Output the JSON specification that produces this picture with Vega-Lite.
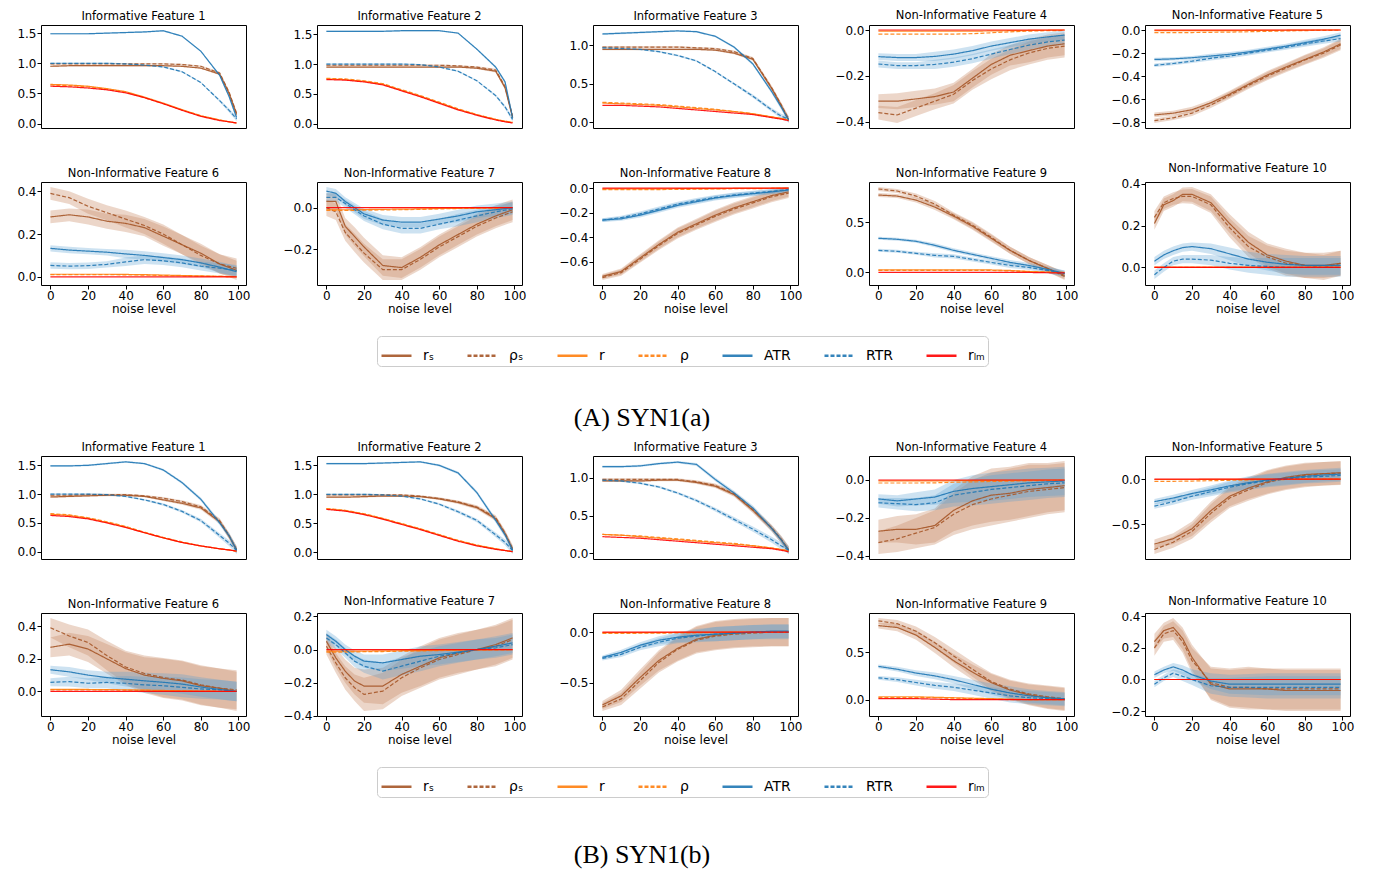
{
"$schema": "https://vega.github.io/schema/vega-lite/v6.json",
"background": "white",
"padding": {"left": 16, "top": 8, "right": 5, "bottom": 5},
"config": {
  "font": "DejaVu Sans",
  "view": {"stroke": "black", "strokeWidth": 1},
  "axis": {"grid": false, "domain": false, "tickColor": "black", "tickSize": 4, "labelColor": "black", "labelFontSize": 12, "titleFontSize": 12, "titleFontWeight": "normal", "titleColor": "black", "titlePadding": 2, "labelPadding": 1},
  "header": {"labelFontSize": 11.5, "labelColor": "black", "labelPadding": 3, "title": null}
},
"datasets": {
"A": [
{"f":1,"x":0,"rS":0.95,"pS":0.99,"r":0.65,"p":0.64,"atr":1.49,"rtr":1.0,"lm":0.62,"sb":0.012,"sa":0.012},
{"f":1,"x":10,"rS":0.96,"pS":0.99,"r":0.64,"p":0.63,"atr":1.49,"rtr":1.0,"lm":0.61,"sb":0.012,"sa":0.012},
{"f":1,"x":20,"rS":0.96,"pS":0.99,"r":0.62,"p":0.61,"atr":1.49,"rtr":1.0,"lm":0.59,"sb":0.012,"sa":0.012},
{"f":1,"x":30,"rS":0.96,"pS":0.99,"r":0.58,"p":0.57,"atr":1.5,"rtr":1.0,"lm":0.56,"sb":0.012,"sa":0.012},
{"f":1,"x":40,"rS":0.96,"pS":0.99,"r":0.53,"p":0.52,"atr":1.51,"rtr":0.99,"lm":0.51,"sb":0.012,"sa":0.012},
{"f":1,"x":50,"rS":0.96,"pS":0.99,"r":0.44,"p":0.43,"atr":1.52,"rtr":0.97,"lm":0.43,"sb":0.012,"sa":0.012},
{"f":1,"x":60,"rS":0.96,"pS":0.99,"r":0.34,"p":0.33,"atr":1.54,"rtr":0.94,"lm":0.33,"sb":0.012,"sa":0.012},
{"f":1,"x":70,"rS":0.95,"pS":0.98,"r":0.23,"p":0.23,"atr":1.45,"rtr":0.86,"lm":0.22,"sb":0.012,"sa":0.012},
{"f":1,"x":80,"rS":0.92,"pS":0.95,"r":0.13,"p":0.13,"atr":1.2,"rtr":0.68,"lm":0.12,"sb":0.012,"sa":0.012},
{"f":1,"x":90,"rS":0.82,"pS":0.84,"r":0.06,"p":0.06,"atr":0.8,"rtr":0.38,"lm":0.05,"sb":0.02,"sa":0.02},
{"f":1,"x":95,"rS":0.5,"pS":0.52,"r":0.03,"p":0.03,"atr":0.45,"rtr":0.22,"lm":0.03,"sb":0.03,"sa":0.03},
{"f":1,"x":99,"rS":0.15,"pS":0.17,"r":0.01,"p":0.01,"atr":0.1,"rtr":0.08,"lm":0.01,"sb":0.04,"sa":0.04},
{"f":2,"x":0,"rS":0.95,"pS":0.98,"r":0.75,"p":0.76,"atr":1.55,"rtr":1.0,"lm":0.74,"sb":0.012,"sa":0.012},
{"f":2,"x":10,"rS":0.95,"pS":0.98,"r":0.74,"p":0.75,"atr":1.55,"rtr":1.0,"lm":0.73,"sb":0.012,"sa":0.012},
{"f":2,"x":20,"rS":0.95,"pS":0.98,"r":0.71,"p":0.72,"atr":1.55,"rtr":1.0,"lm":0.7,"sb":0.012,"sa":0.012},
{"f":2,"x":30,"rS":0.95,"pS":0.98,"r":0.66,"p":0.67,"atr":1.55,"rtr":1.0,"lm":0.65,"sb":0.012,"sa":0.012},
{"f":2,"x":40,"rS":0.95,"pS":0.98,"r":0.56,"p":0.57,"atr":1.56,"rtr":1.0,"lm":0.55,"sb":0.012,"sa":0.012},
{"f":2,"x":50,"rS":0.95,"pS":0.98,"r":0.46,"p":0.47,"atr":1.56,"rtr":0.99,"lm":0.45,"sb":0.012,"sa":0.012},
{"f":2,"x":60,"rS":0.95,"pS":0.98,"r":0.35,"p":0.36,"atr":1.56,"rtr":0.95,"lm":0.34,"sb":0.012,"sa":0.012},
{"f":2,"x":70,"rS":0.95,"pS":0.97,"r":0.24,"p":0.25,"atr":1.52,"rtr":0.88,"lm":0.23,"sb":0.012,"sa":0.012},
{"f":2,"x":80,"rS":0.93,"pS":0.95,"r":0.15,"p":0.15,"atr":1.25,"rtr":0.72,"lm":0.14,"sb":0.012,"sa":0.012},
{"f":2,"x":90,"rS":0.88,"pS":0.9,"r":0.07,"p":0.07,"atr":0.95,"rtr":0.47,"lm":0.06,"sb":0.02,"sa":0.02},
{"f":2,"x":95,"rS":0.6,"pS":0.62,"r":0.04,"p":0.04,"atr":0.7,"rtr":0.28,"lm":0.03,"sb":0.03,"sa":0.03},
{"f":2,"x":99,"rS":0.1,"pS":0.12,"r":0.02,"p":0.02,"atr":0.1,"rtr":0.07,"lm":0.01,"sb":0.04,"sa":0.04},
{"f":3,"x":0,"rS":0.95,"pS":0.98,"r":0.25,"p":0.26,"atr":1.15,"rtr":0.97,"lm":0.22,"sb":0.012,"sa":0.012},
{"f":3,"x":10,"rS":0.95,"pS":0.98,"r":0.24,"p":0.25,"atr":1.16,"rtr":0.96,"lm":0.22,"sb":0.012,"sa":0.012},
{"f":3,"x":20,"rS":0.95,"pS":0.98,"r":0.23,"p":0.24,"atr":1.17,"rtr":0.95,"lm":0.21,"sb":0.012,"sa":0.012},
{"f":3,"x":30,"rS":0.95,"pS":0.98,"r":0.22,"p":0.23,"atr":1.18,"rtr":0.92,"lm":0.2,"sb":0.012,"sa":0.012},
{"f":3,"x":40,"rS":0.95,"pS":0.98,"r":0.2,"p":0.21,"atr":1.19,"rtr":0.87,"lm":0.18,"sb":0.012,"sa":0.012},
{"f":3,"x":50,"rS":0.95,"pS":0.97,"r":0.18,"p":0.19,"atr":1.18,"rtr":0.8,"lm":0.16,"sb":0.012,"sa":0.012},
{"f":3,"x":60,"rS":0.94,"pS":0.96,"r":0.16,"p":0.17,"atr":1.12,"rtr":0.66,"lm":0.14,"sb":0.012,"sa":0.012},
{"f":3,"x":70,"rS":0.9,"pS":0.92,"r":0.14,"p":0.14,"atr":0.98,"rtr":0.5,"lm":0.12,"sb":0.015,"sa":0.015},
{"f":3,"x":80,"rS":0.82,"pS":0.83,"r":0.11,"p":0.11,"atr":0.76,"rtr":0.34,"lm":0.1,"sb":0.02,"sa":0.02},
{"f":3,"x":90,"rS":0.44,"pS":0.45,"r":0.07,"p":0.07,"atr":0.4,"rtr":0.16,"lm":0.06,"sb":0.025,"sa":0.025},
{"f":3,"x":95,"rS":0.22,"pS":0.23,"r":0.05,"p":0.05,"atr":0.2,"rtr":0.08,"lm":0.04,"sb":0.03,"sa":0.03},
{"f":3,"x":99,"rS":0.03,"pS":0.04,"r":0.03,"p":0.03,"atr":0.03,"rtr":0.04,"lm":0.02,"sb":0.04,"sa":0.04},
{"f":4,"x":0,"rS":-0.31,"pS":-0.36,"r":-0.005,"p":-0.018,"atr":-0.116,"rtr":-0.148,"lm":0.0,"sb":0.03,"sa":0.015},
{"f":4,"x":10,"rS":-0.31,"pS":-0.37,"r":-0.005,"p":-0.018,"atr":-0.12,"rtr":-0.155,"lm":0.0,"sb":0.035,"sa":0.015},
{"f":4,"x":20,"rS":-0.3,"pS":-0.34,"r":-0.005,"p":-0.018,"atr":-0.12,"rtr":-0.155,"lm":0.0,"sb":0.035,"sa":0.015},
{"f":4,"x":30,"rS":-0.29,"pS":-0.31,"r":-0.005,"p":-0.018,"atr":-0.115,"rtr":-0.15,"lm":0.0,"sb":0.035,"sa":0.02},
{"f":4,"x":40,"rS":-0.27,"pS":-0.28,"r":-0.005,"p":-0.018,"atr":-0.105,"rtr":-0.14,"lm":0.0,"sb":0.04,"sa":0.02},
{"f":4,"x":50,"rS":-0.21,"pS":-0.22,"r":-0.005,"p":-0.016,"atr":-0.09,"rtr":-0.125,"lm":0.0,"sb":0.04,"sa":0.02},
{"f":4,"x":60,"rS":-0.15,"pS":-0.17,"r":-0.004,"p":-0.012,"atr":-0.07,"rtr":-0.105,"lm":0.0,"sb":0.045,"sa":0.02},
{"f":4,"x":70,"rS":-0.11,"pS":-0.13,"r":-0.003,"p":-0.008,"atr":-0.055,"rtr":-0.085,"lm":0.0,"sb":0.045,"sa":0.02},
{"f":4,"x":80,"rS":-0.09,"pS":-0.1,"r":-0.002,"p":-0.005,"atr":-0.04,"rtr":-0.066,"lm":0.0,"sb":0.05,"sa":0.02},
{"f":4,"x":90,"rS":-0.07,"pS":-0.08,"r":-0.001,"p":-0.003,"atr":-0.03,"rtr":-0.052,"lm":0.0,"sb":0.05,"sa":0.02},
{"f":4,"x":99,"rS":-0.06,"pS":-0.07,"r":0.0,"p":-0.002,"atr":-0.022,"rtr":-0.044,"lm":0.0,"sb":0.05,"sa":0.02},
{"f":5,"x":0,"rS":-0.735,"pS":-0.785,"r":-0.005,"p":-0.022,"atr":-0.255,"rtr":-0.306,"lm":0.0,"sb":0.02,"sa":0.015},
{"f":5,"x":10,"rS":-0.72,"pS":-0.76,"r":-0.005,"p":-0.022,"atr":-0.25,"rtr":-0.29,"lm":0.0,"sb":0.02,"sa":0.015},
{"f":5,"x":20,"rS":-0.69,"pS":-0.72,"r":-0.005,"p":-0.022,"atr":-0.24,"rtr":-0.27,"lm":0.0,"sb":0.025,"sa":0.015},
{"f":5,"x":30,"rS":-0.63,"pS":-0.65,"r":-0.005,"p":-0.02,"atr":-0.225,"rtr":-0.245,"lm":0.0,"sb":0.025,"sa":0.02},
{"f":5,"x":40,"rS":-0.555,"pS":-0.565,"r":-0.005,"p":-0.018,"atr":-0.21,"rtr":-0.225,"lm":0.0,"sb":0.03,"sa":0.02},
{"f":5,"x":50,"rS":-0.47,"pS":-0.48,"r":-0.004,"p":-0.015,"atr":-0.19,"rtr":-0.2,"lm":0.0,"sb":0.03,"sa":0.02},
{"f":5,"x":60,"rS":-0.39,"pS":-0.4,"r":-0.003,"p":-0.012,"atr":-0.165,"rtr":-0.175,"lm":0.0,"sb":0.035,"sa":0.02},
{"f":5,"x":70,"rS":-0.32,"pS":-0.33,"r":-0.002,"p":-0.008,"atr":-0.14,"rtr":-0.15,"lm":0.0,"sb":0.035,"sa":0.02},
{"f":5,"x":80,"rS":-0.255,"pS":-0.26,"r":-0.001,"p":-0.005,"atr":-0.11,"rtr":-0.12,"lm":0.0,"sb":0.04,"sa":0.025},
{"f":5,"x":90,"rS":-0.19,"pS":-0.2,"r":0.0,"p":-0.003,"atr":-0.08,"rtr":-0.095,"lm":0.0,"sb":0.04,"sa":0.025},
{"f":5,"x":99,"rS":-0.12,"pS":-0.13,"r":0.0,"p":-0.002,"atr":-0.045,"rtr":-0.075,"lm":0.0,"sb":0.045,"sa":0.025},
{"f":6,"x":0,"rS":0.28,"pS":0.39,"r":0.012,"p":0.01,"atr":0.133,"rtr":0.053,"lm":0.0,"sb":0.03,"sa":0.015},
{"f":6,"x":10,"rS":0.29,"pS":0.37,"r":0.012,"p":0.01,"atr":0.125,"rtr":0.05,"lm":0.0,"sb":0.03,"sa":0.015},
{"f":6,"x":20,"rS":0.28,"pS":0.33,"r":0.012,"p":0.01,"atr":0.12,"rtr":0.052,"lm":0.0,"sb":0.035,"sa":0.015},
{"f":6,"x":30,"rS":0.26,"pS":0.3,"r":0.012,"p":0.01,"atr":0.115,"rtr":0.058,"lm":0.0,"sb":0.035,"sa":0.015},
{"f":6,"x":40,"rS":0.25,"pS":0.27,"r":0.011,"p":0.009,"atr":0.107,"rtr":0.07,"lm":0.0,"sb":0.04,"sa":0.02},
{"f":6,"x":50,"rS":0.23,"pS":0.24,"r":0.01,"p":0.008,"atr":0.1,"rtr":0.08,"lm":0.0,"sb":0.04,"sa":0.02},
{"f":6,"x":60,"rS":0.19,"pS":0.2,"r":0.008,"p":0.006,"atr":0.09,"rtr":0.075,"lm":0.0,"sb":0.045,"sa":0.02},
{"f":6,"x":70,"rS":0.15,"pS":0.15,"r":0.006,"p":0.005,"atr":0.08,"rtr":0.065,"lm":0.0,"sb":0.045,"sa":0.02},
{"f":6,"x":80,"rS":0.11,"pS":0.1,"r":0.004,"p":0.003,"atr":0.065,"rtr":0.05,"lm":0.0,"sb":0.045,"sa":0.02},
{"f":6,"x":90,"rS":0.06,"pS":0.06,"r":0.002,"p":0.002,"atr":0.045,"rtr":0.04,"lm":0.0,"sb":0.045,"sa":0.025},
{"f":6,"x":99,"rS":0.03,"pS":0.04,"r":0.0,"p":0.0,"atr":0.024,"rtr":0.03,"lm":0.0,"sb":0.045,"sa":0.025},
{"f":7,"x":0,"rS":0.03,"pS":0.0,"r":-0.01,"p":-0.013,"atr":0.08,"rtr":0.05,"lm":0.0,"sb":0.04,"sa":0.02},
{"f":7,"x":5,"rS":0.03,"pS":-0.02,"r":-0.01,"p":-0.013,"atr":0.07,"rtr":0.05,"lm":0.0,"sb":0.04,"sa":0.02},
{"f":7,"x":10,"rS":-0.09,"pS":-0.12,"r":-0.01,"p":-0.013,"atr":0.03,"rtr":0.02,"lm":0.0,"sb":0.04,"sa":0.02},
{"f":7,"x":15,"rS":-0.14,"pS":-0.17,"r":-0.01,"p":-0.013,"atr":0.0,"rtr":-0.01,"lm":0.0,"sb":0.045,"sa":0.022},
{"f":7,"x":20,"rS":-0.19,"pS":-0.22,"r":-0.009,"p":-0.012,"atr":-0.03,"rtr":-0.04,"lm":0.0,"sb":0.045,"sa":0.025},
{"f":7,"x":30,"rS":-0.28,"pS":-0.3,"r":-0.008,"p":-0.011,"atr":-0.06,"rtr":-0.08,"lm":0.0,"sb":0.05,"sa":0.025},
{"f":7,"x":40,"rS":-0.29,"pS":-0.3,"r":-0.007,"p":-0.01,"atr":-0.07,"rtr":-0.1,"lm":0.0,"sb":0.05,"sa":0.025},
{"f":7,"x":50,"rS":-0.24,"pS":-0.25,"r":-0.006,"p":-0.008,"atr":-0.07,"rtr":-0.1,"lm":0.0,"sb":0.05,"sa":0.025},
{"f":7,"x":60,"rS":-0.18,"pS":-0.19,"r":-0.004,"p":-0.006,"atr":-0.055,"rtr":-0.08,"lm":0.0,"sb":0.05,"sa":0.025},
{"f":7,"x":70,"rS":-0.13,"pS":-0.14,"r":-0.003,"p":-0.004,"atr":-0.04,"rtr":-0.06,"lm":0.0,"sb":0.05,"sa":0.03},
{"f":7,"x":80,"rS":-0.08,"pS":-0.09,"r":-0.002,"p":-0.003,"atr":-0.02,"rtr":-0.04,"lm":0.0,"sb":0.05,"sa":0.03},
{"f":7,"x":90,"rS":-0.04,"pS":-0.05,"r":-0.001,"p":-0.002,"atr":-0.01,"rtr":-0.02,"lm":0.0,"sb":0.05,"sa":0.03},
{"f":7,"x":99,"rS":-0.01,"pS":-0.02,"r":0.0,"p":-0.001,"atr":0.0,"rtr":-0.005,"lm":0.0,"sb":0.05,"sa":0.03},
{"f":8,"x":0,"rS":-0.72,"pS":-0.73,"r":-0.005,"p":-0.012,"atr":-0.26,"rtr":-0.26,"lm":0.0,"sb":0.02,"sa":0.015},
{"f":8,"x":10,"rS":-0.68,"pS":-0.69,"r":-0.005,"p":-0.012,"atr":-0.25,"rtr":-0.24,"lm":0.0,"sb":0.025,"sa":0.015},
{"f":8,"x":20,"rS":-0.57,"pS":-0.58,"r":-0.005,"p":-0.012,"atr":-0.22,"rtr":-0.21,"lm":0.0,"sb":0.03,"sa":0.02},
{"f":8,"x":30,"rS":-0.46,"pS":-0.47,"r":-0.005,"p":-0.011,"atr":-0.18,"rtr":-0.17,"lm":0.0,"sb":0.035,"sa":0.02},
{"f":8,"x":40,"rS":-0.36,"pS":-0.37,"r":-0.004,"p":-0.01,"atr":-0.14,"rtr":-0.13,"lm":0.0,"sb":0.04,"sa":0.02},
{"f":8,"x":50,"rS":-0.29,"pS":-0.3,"r":-0.004,"p":-0.008,"atr":-0.11,"rtr":-0.1,"lm":0.0,"sb":0.04,"sa":0.02},
{"f":8,"x":60,"rS":-0.22,"pS":-0.23,"r":-0.003,"p":-0.006,"atr":-0.08,"rtr":-0.075,"lm":0.0,"sb":0.045,"sa":0.02},
{"f":8,"x":70,"rS":-0.16,"pS":-0.17,"r":-0.002,"p":-0.004,"atr":-0.06,"rtr":-0.055,"lm":0.0,"sb":0.045,"sa":0.02},
{"f":8,"x":80,"rS":-0.11,"pS":-0.12,"r":-0.001,"p":-0.003,"atr":-0.045,"rtr":-0.04,"lm":0.0,"sb":0.045,"sa":0.02},
{"f":8,"x":90,"rS":-0.06,"pS":-0.07,"r":0.0,"p":-0.002,"atr":-0.03,"rtr":-0.025,"lm":0.0,"sb":0.045,"sa":0.02},
{"f":8,"x":99,"rS":-0.03,"pS":-0.04,"r":0.0,"p":-0.001,"atr":-0.015,"rtr":-0.01,"lm":0.0,"sb":0.04,"sa":0.02},
{"f":9,"x":0,"rS":0.77,"pS":0.83,"r":0.025,"p":0.02,"atr":0.34,"rtr":0.22,"lm":0.0,"sb":0.02,"sa":0.015},
{"f":9,"x":10,"rS":0.76,"pS":0.81,"r":0.025,"p":0.02,"atr":0.33,"rtr":0.21,"lm":0.0,"sb":0.02,"sa":0.015},
{"f":9,"x":20,"rS":0.72,"pS":0.76,"r":0.025,"p":0.02,"atr":0.31,"rtr":0.19,"lm":0.0,"sb":0.025,"sa":0.015},
{"f":9,"x":30,"rS":0.65,"pS":0.68,"r":0.025,"p":0.02,"atr":0.27,"rtr":0.17,"lm":0.0,"sb":0.03,"sa":0.02},
{"f":9,"x":40,"rS":0.56,"pS":0.57,"r":0.025,"p":0.02,"atr":0.22,"rtr":0.16,"lm":0.0,"sb":0.03,"sa":0.02},
{"f":9,"x":50,"rS":0.46,"pS":0.47,"r":0.025,"p":0.02,"atr":0.18,"rtr":0.13,"lm":0.0,"sb":0.035,"sa":0.02},
{"f":9,"x":60,"rS":0.34,"pS":0.35,"r":0.025,"p":0.02,"atr":0.14,"rtr":0.1,"lm":0.0,"sb":0.035,"sa":0.02},
{"f":9,"x":70,"rS":0.22,"pS":0.22,"r":0.02,"p":0.015,"atr":0.1,"rtr":0.07,"lm":0.0,"sb":0.035,"sa":0.025},
{"f":9,"x":80,"rS":0.12,"pS":0.12,"r":0.01,"p":0.008,"atr":0.07,"rtr":0.05,"lm":0.0,"sb":0.035,"sa":0.025},
{"f":9,"x":90,"rS":0.04,"pS":0.04,"r":0.004,"p":0.003,"atr":0.03,"rtr":0.02,"lm":-0.003,"sb":0.035,"sa":0.03},
{"f":9,"x":99,"rS":-0.03,"pS":-0.04,"r":0.0,"p":0.0,"atr":-0.01,"rtr":-0.01,"lm":-0.005,"sb":0.035,"sa":0.03},
{"f":10,"x":0,"rS":0.21,"pS":0.24,"r":0.002,"p":0.0,"atr":0.03,"rtr":-0.035,"lm":0.0,"sb":0.03,"sa":0.02},
{"f":10,"x":5,"rS":0.3,"pS":0.31,"r":0.002,"p":0.0,"atr":0.06,"rtr":0.0,"lm":0.0,"sb":0.03,"sa":0.02},
{"f":10,"x":10,"rS":0.32,"pS":0.33,"r":0.002,"p":0.0,"atr":0.08,"rtr":0.03,"lm":0.0,"sb":0.03,"sa":0.02},
{"f":10,"x":15,"rS":0.35,"pS":0.34,"r":0.002,"p":0.0,"atr":0.095,"rtr":0.04,"lm":0.0,"sb":0.033,"sa":0.02},
{"f":10,"x":20,"rS":0.35,"pS":0.34,"r":0.002,"p":0.0,"atr":0.1,"rtr":0.04,"lm":0.0,"sb":0.035,"sa":0.02},
{"f":10,"x":30,"rS":0.31,"pS":0.3,"r":0.002,"p":0.0,"atr":0.09,"rtr":0.035,"lm":0.0,"sb":0.04,"sa":0.025},
{"f":10,"x":40,"rS":0.21,"pS":0.19,"r":0.002,"p":0.0,"atr":0.065,"rtr":0.02,"lm":0.0,"sb":0.045,"sa":0.03},
{"f":10,"x":50,"rS":0.12,"pS":0.1,"r":0.002,"p":0.0,"atr":0.04,"rtr":0.01,"lm":0.0,"sb":0.05,"sa":0.035},
{"f":10,"x":60,"rS":0.06,"pS":0.05,"r":0.002,"p":0.0,"atr":0.025,"rtr":0.005,"lm":0.0,"sb":0.055,"sa":0.04},
{"f":10,"x":70,"rS":0.03,"pS":0.02,"r":0.002,"p":0.0,"atr":0.015,"rtr":0.0,"lm":0.0,"sb":0.06,"sa":0.045},
{"f":10,"x":80,"rS":0.01,"pS":0.01,"r":0.002,"p":0.0,"atr":0.01,"rtr":0.0,"lm":0.0,"sb":0.06,"sa":0.045},
{"f":10,"x":90,"rS":0.01,"pS":0.0,"r":0.002,"p":0.0,"atr":0.01,"rtr":0.0,"lm":0.0,"sb":0.06,"sa":0.045},
{"f":10,"x":99,"rS":0.02,"pS":0.02,"r":0.002,"p":0.0,"atr":0.01,"rtr":0.0,"lm":0.0,"sb":0.06,"sa":0.045}
],
"B": [
{"f":1,"x":0,"rS":0.95,"pS":0.98,"r":0.65,"p":0.66,"atr":1.49,"rtr":1.0,"lm":0.63,"sb":0.015,"sa":0.015},
{"f":1,"x":10,"rS":0.96,"pS":0.98,"r":0.63,"p":0.64,"atr":1.49,"rtr":1.0,"lm":0.61,"sb":0.015,"sa":0.015},
{"f":1,"x":20,"rS":0.97,"pS":0.99,"r":0.58,"p":0.59,"atr":1.5,"rtr":1.0,"lm":0.57,"sb":0.015,"sa":0.015},
{"f":1,"x":30,"rS":0.98,"pS":0.99,"r":0.51,"p":0.52,"atr":1.53,"rtr":0.99,"lm":0.5,"sb":0.015,"sa":0.015},
{"f":1,"x":40,"rS":0.98,"pS":0.99,"r":0.43,"p":0.44,"atr":1.56,"rtr":0.96,"lm":0.42,"sb":0.015,"sa":0.015},
{"f":1,"x":50,"rS":0.96,"pS":0.97,"r":0.33,"p":0.34,"atr":1.53,"rtr":0.9,"lm":0.33,"sb":0.015,"sa":0.015},
{"f":1,"x":60,"rS":0.9,"pS":0.93,"r":0.24,"p":0.25,"atr":1.42,"rtr":0.82,"lm":0.24,"sb":0.02,"sa":0.02},
{"f":1,"x":70,"rS":0.84,"pS":0.87,"r":0.16,"p":0.17,"atr":1.2,"rtr":0.7,"lm":0.16,"sb":0.025,"sa":0.025},
{"f":1,"x":80,"rS":0.76,"pS":0.78,"r":0.1,"p":0.1,"atr":0.91,"rtr":0.54,"lm":0.1,"sb":0.03,"sa":0.03},
{"f":1,"x":90,"rS":0.52,"pS":0.54,"r":0.05,"p":0.05,"atr":0.5,"rtr":0.28,"lm":0.05,"sb":0.04,"sa":0.04},
{"f":1,"x":95,"rS":0.27,"pS":0.28,"r":0.03,"p":0.03,"atr":0.28,"rtr":0.15,"lm":0.03,"sb":0.05,"sa":0.05},
{"f":1,"x":99,"rS":0.03,"pS":0.04,"r":0.01,"p":0.01,"atr":0.03,"rtr":0.02,"lm":0.01,"sb":0.06,"sa":0.06},
{"f":2,"x":0,"rS":0.95,"pS":0.99,"r":0.75,"p":0.755,"atr":1.53,"rtr":1.0,"lm":0.74,"sb":0.015,"sa":0.015},
{"f":2,"x":10,"rS":0.95,"pS":0.99,"r":0.72,"p":0.725,"atr":1.53,"rtr":1.0,"lm":0.71,"sb":0.015,"sa":0.015},
{"f":2,"x":20,"rS":0.96,"pS":0.99,"r":0.66,"p":0.665,"atr":1.53,"rtr":1.0,"lm":0.65,"sb":0.015,"sa":0.015},
{"f":2,"x":30,"rS":0.97,"pS":0.99,"r":0.58,"p":0.585,"atr":1.54,"rtr":0.99,"lm":0.57,"sb":0.015,"sa":0.015},
{"f":2,"x":40,"rS":0.97,"pS":0.99,"r":0.49,"p":0.495,"atr":1.55,"rtr":0.97,"lm":0.48,"sb":0.015,"sa":0.015},
{"f":2,"x":50,"rS":0.96,"pS":0.97,"r":0.4,"p":0.405,"atr":1.56,"rtr":0.92,"lm":0.39,"sb":0.015,"sa":0.015},
{"f":2,"x":60,"rS":0.92,"pS":0.93,"r":0.3,"p":0.305,"atr":1.5,"rtr":0.83,"lm":0.29,"sb":0.02,"sa":0.02},
{"f":2,"x":70,"rS":0.86,"pS":0.87,"r":0.2,"p":0.205,"atr":1.37,"rtr":0.7,"lm":0.19,"sb":0.025,"sa":0.025},
{"f":2,"x":80,"rS":0.77,"pS":0.78,"r":0.12,"p":0.125,"atr":1.03,"rtr":0.55,"lm":0.11,"sb":0.03,"sa":0.03},
{"f":2,"x":90,"rS":0.58,"pS":0.6,"r":0.06,"p":0.06,"atr":0.55,"rtr":0.3,"lm":0.05,"sb":0.04,"sa":0.04},
{"f":2,"x":95,"rS":0.32,"pS":0.33,"r":0.03,"p":0.03,"atr":0.3,"rtr":0.17,"lm":0.03,"sb":0.05,"sa":0.05},
{"f":2,"x":99,"rS":0.05,"pS":0.06,"r":0.01,"p":0.01,"atr":0.04,"rtr":0.03,"lm":0.01,"sb":0.06,"sa":0.06},
{"f":3,"x":0,"rS":0.96,"pS":0.98,"r":0.25,"p":0.25,"atr":1.15,"rtr":0.97,"lm":0.22,"sb":0.015,"sa":0.015},
{"f":3,"x":10,"rS":0.96,"pS":0.98,"r":0.24,"p":0.24,"atr":1.15,"rtr":0.96,"lm":0.21,"sb":0.015,"sa":0.015},
{"f":3,"x":20,"rS":0.96,"pS":0.98,"r":0.22,"p":0.23,"atr":1.16,"rtr":0.93,"lm":0.2,"sb":0.015,"sa":0.015},
{"f":3,"x":30,"rS":0.97,"pS":0.98,"r":0.2,"p":0.21,"atr":1.19,"rtr":0.88,"lm":0.18,"sb":0.015,"sa":0.015},
{"f":3,"x":40,"rS":0.97,"pS":0.98,"r":0.18,"p":0.19,"atr":1.21,"rtr":0.8,"lm":0.16,"sb":0.015,"sa":0.015},
{"f":3,"x":50,"rS":0.94,"pS":0.95,"r":0.16,"p":0.17,"atr":1.18,"rtr":0.7,"lm":0.14,"sb":0.02,"sa":0.02},
{"f":3,"x":60,"rS":0.89,"pS":0.9,"r":0.14,"p":0.15,"atr":0.98,"rtr":0.58,"lm":0.12,"sb":0.025,"sa":0.025},
{"f":3,"x":70,"rS":0.78,"pS":0.79,"r":0.12,"p":0.13,"atr":0.8,"rtr":0.45,"lm":0.1,"sb":0.03,"sa":0.03},
{"f":3,"x":80,"rS":0.57,"pS":0.58,"r":0.1,"p":0.1,"atr":0.6,"rtr":0.32,"lm":0.08,"sb":0.035,"sa":0.035},
{"f":3,"x":90,"rS":0.33,"pS":0.34,"r":0.07,"p":0.07,"atr":0.33,"rtr":0.18,"lm":0.06,"sb":0.04,"sa":0.04},
{"f":3,"x":95,"rS":0.18,"pS":0.19,"r":0.05,"p":0.05,"atr":0.18,"rtr":0.1,"lm":0.04,"sb":0.045,"sa":0.045},
{"f":3,"x":99,"rS":0.04,"pS":0.05,"r":0.03,"p":0.03,"atr":0.04,"rtr":0.04,"lm":0.02,"sb":0.05,"sa":0.05},
{"f":4,"x":0,"rS":-0.27,"pS":-0.33,"r":-0.005,"p":-0.016,"atr":-0.1,"rtr":-0.12,"lm":0.0,"sb":0.06,"sa":0.025},
{"f":4,"x":10,"rS":-0.26,"pS":-0.31,"r":-0.005,"p":-0.016,"atr":-0.11,"rtr":-0.125,"lm":0.0,"sb":0.07,"sa":0.03},
{"f":4,"x":20,"rS":-0.26,"pS":-0.28,"r":-0.005,"p":-0.016,"atr":-0.1,"rtr":-0.13,"lm":0.0,"sb":0.08,"sa":0.035},
{"f":4,"x":30,"rS":-0.24,"pS":-0.25,"r":-0.005,"p":-0.015,"atr":-0.09,"rtr":-0.12,"lm":0.0,"sb":0.09,"sa":0.04},
{"f":4,"x":40,"rS":-0.16,"pS":-0.18,"r":-0.004,"p":-0.012,"atr":-0.06,"rtr":-0.08,"lm":0.0,"sb":0.11,"sa":0.06},
{"f":4,"x":50,"rS":-0.11,"pS":-0.13,"r":-0.003,"p":-0.01,"atr":-0.045,"rtr":-0.065,"lm":0.0,"sb":0.13,"sa":0.07},
{"f":4,"x":60,"rS":-0.08,"pS":-0.1,"r":-0.002,"p":-0.008,"atr":-0.035,"rtr":-0.05,"lm":0.0,"sb":0.14,"sa":0.075},
{"f":4,"x":70,"rS":-0.07,"pS":-0.08,"r":-0.002,"p":-0.006,"atr":-0.025,"rtr":-0.04,"lm":0.0,"sb":0.14,"sa":0.075},
{"f":4,"x":80,"rS":-0.05,"pS":-0.06,"r":-0.001,"p":-0.004,"atr":-0.015,"rtr":-0.03,"lm":0.0,"sb":0.14,"sa":0.075},
{"f":4,"x":90,"rS":-0.04,"pS":-0.05,"r":0.0,"p":-0.003,"atr":-0.01,"rtr":-0.02,"lm":0.0,"sb":0.13,"sa":0.075},
{"f":4,"x":99,"rS":-0.03,"pS":-0.04,"r":0.0,"p":-0.002,"atr":-0.005,"rtr":-0.015,"lm":0.0,"sb":0.13,"sa":0.075},
{"f":5,"x":0,"rS":-0.72,"pS":-0.78,"r":-0.005,"p":-0.025,"atr":-0.25,"rtr":-0.3,"lm":0.0,"sb":0.05,"sa":0.03},
{"f":5,"x":10,"rS":-0.66,"pS":-0.7,"r":-0.005,"p":-0.025,"atr":-0.21,"rtr":-0.25,"lm":0.0,"sb":0.06,"sa":0.035},
{"f":5,"x":20,"rS":-0.55,"pS":-0.58,"r":-0.005,"p":-0.022,"atr":-0.16,"rtr":-0.19,"lm":0.0,"sb":0.08,"sa":0.04},
{"f":5,"x":30,"rS":-0.35,"pS":-0.38,"r":-0.004,"p":-0.018,"atr":-0.12,"rtr":-0.14,"lm":0.0,"sb":0.1,"sa":0.05},
{"f":5,"x":40,"rS":-0.19,"pS":-0.21,"r":-0.003,"p":-0.014,"atr":-0.075,"rtr":-0.09,"lm":0.0,"sb":0.11,"sa":0.06},
{"f":5,"x":50,"rS":-0.1,"pS":-0.12,"r":-0.002,"p":-0.01,"atr":-0.04,"rtr":-0.05,"lm":0.0,"sb":0.12,"sa":0.07},
{"f":5,"x":60,"rS":-0.03,"pS":-0.04,"r":-0.001,"p":-0.007,"atr":-0.01,"rtr":-0.02,"lm":0.0,"sb":0.13,"sa":0.07},
{"f":5,"x":70,"rS":0.02,"pS":0.01,"r":0.0,"p":-0.005,"atr":0.01,"rtr":0.0,"lm":0.0,"sb":0.13,"sa":0.07},
{"f":5,"x":80,"rS":0.05,"pS":0.04,"r":0.0,"p":-0.003,"atr":0.03,"rtr":0.02,"lm":0.0,"sb":0.13,"sa":0.07},
{"f":5,"x":90,"rS":0.06,"pS":0.06,"r":0.0,"p":-0.002,"atr":0.045,"rtr":0.03,"lm":0.0,"sb":0.13,"sa":0.07},
{"f":5,"x":99,"rS":0.07,"pS":0.065,"r":0.0,"p":-0.001,"atr":0.055,"rtr":0.04,"lm":0.0,"sb":0.13,"sa":0.07},
{"f":6,"x":0,"rS":0.27,"pS":0.39,"r":0.012,"p":0.01,"atr":0.133,"rtr":0.056,"lm":0.0,"sb":0.06,"sa":0.025},
{"f":6,"x":10,"rS":0.29,"pS":0.34,"r":0.012,"p":0.01,"atr":0.12,"rtr":0.06,"lm":0.0,"sb":0.07,"sa":0.03},
{"f":6,"x":20,"rS":0.26,"pS":0.3,"r":0.012,"p":0.01,"atr":0.1,"rtr":0.05,"lm":0.0,"sb":0.08,"sa":0.03},
{"f":6,"x":30,"rS":0.2,"pS":0.22,"r":0.011,"p":0.009,"atr":0.085,"rtr":0.055,"lm":0.0,"sb":0.09,"sa":0.035},
{"f":6,"x":40,"rS":0.14,"pS":0.15,"r":0.01,"p":0.008,"atr":0.075,"rtr":0.05,"lm":0.0,"sb":0.1,"sa":0.045},
{"f":6,"x":50,"rS":0.1,"pS":0.11,"r":0.008,"p":0.006,"atr":0.065,"rtr":0.04,"lm":0.0,"sb":0.11,"sa":0.05},
{"f":6,"x":60,"rS":0.08,"pS":0.085,"r":0.006,"p":0.005,"atr":0.056,"rtr":0.035,"lm":0.0,"sb":0.12,"sa":0.055},
{"f":6,"x":70,"rS":0.065,"pS":0.07,"r":0.004,"p":0.003,"atr":0.045,"rtr":0.025,"lm":0.0,"sb":0.12,"sa":0.06},
{"f":6,"x":80,"rS":0.035,"pS":0.04,"r":0.002,"p":0.002,"atr":0.027,"rtr":0.015,"lm":0.0,"sb":0.12,"sa":0.06},
{"f":6,"x":90,"rS":0.02,"pS":0.02,"r":0.001,"p":0.001,"atr":0.012,"rtr":0.01,"lm":0.0,"sb":0.12,"sa":0.06},
{"f":6,"x":99,"rS":0.0,"pS":0.01,"r":0.0,"p":0.0,"atr":0.0,"rtr":0.0,"lm":0.0,"sb":0.12,"sa":0.06},
{"f":7,"x":0,"rS":0.05,"pS":0.02,"r":-0.01,"p":-0.015,"atr":0.09,"rtr":0.07,"lm":0.0,"sb":0.05,"sa":0.03},
{"f":7,"x":5,"rS":-0.05,"pS":-0.08,"r":-0.01,"p":-0.015,"atr":0.05,"rtr":0.03,"lm":0.0,"sb":0.06,"sa":0.03},
{"f":7,"x":10,"rS":-0.13,"pS":-0.17,"r":-0.01,"p":-0.015,"atr":0.0,"rtr":-0.02,"lm":0.0,"sb":0.07,"sa":0.03},
{"f":7,"x":15,"rS":-0.19,"pS":-0.23,"r":-0.01,"p":-0.014,"atr":-0.04,"rtr":-0.07,"lm":0.0,"sb":0.08,"sa":0.035},
{"f":7,"x":20,"rS":-0.22,"pS":-0.27,"r":-0.009,"p":-0.013,"atr":-0.07,"rtr":-0.1,"lm":0.0,"sb":0.1,"sa":0.04},
{"f":7,"x":30,"rS":-0.22,"pS":-0.25,"r":-0.008,"p":-0.012,"atr":-0.08,"rtr":-0.13,"lm":0.0,"sb":0.11,"sa":0.05},
{"f":7,"x":40,"rS":-0.15,"pS":-0.17,"r":-0.007,"p":-0.01,"atr":-0.06,"rtr":-0.1,"lm":0.0,"sb":0.11,"sa":0.055},
{"f":7,"x":50,"rS":-0.1,"pS":-0.11,"r":-0.006,"p":-0.008,"atr":-0.04,"rtr":-0.07,"lm":0.0,"sb":0.12,"sa":0.06},
{"f":7,"x":60,"rS":-0.05,"pS":-0.06,"r":-0.004,"p":-0.006,"atr":-0.03,"rtr":-0.04,"lm":0.0,"sb":0.12,"sa":0.06},
{"f":7,"x":70,"rS":-0.02,"pS":-0.03,"r":-0.003,"p":-0.004,"atr":-0.015,"rtr":-0.02,"lm":0.0,"sb":0.12,"sa":0.06},
{"f":7,"x":80,"rS":0.0,"pS":0.0,"r":-0.002,"p":-0.003,"atr":0.0,"rtr":0.0,"lm":0.0,"sb":0.12,"sa":0.06},
{"f":7,"x":90,"rS":0.03,"pS":0.02,"r":-0.001,"p":-0.002,"atr":0.02,"rtr":0.01,"lm":0.0,"sb":0.12,"sa":0.06},
{"f":7,"x":99,"rS":0.07,"pS":0.06,"r":0.0,"p":-0.001,"atr":0.04,"rtr":0.03,"lm":0.0,"sb":0.12,"sa":0.06},
{"f":8,"x":0,"rS":-0.72,"pS":-0.74,"r":-0.005,"p":-0.012,"atr":-0.25,"rtr":-0.26,"lm":0.0,"sb":0.04,"sa":0.02},
{"f":8,"x":10,"rS":-0.63,"pS":-0.66,"r":-0.005,"p":-0.012,"atr":-0.2,"rtr":-0.22,"lm":0.0,"sb":0.06,"sa":0.025},
{"f":8,"x":20,"rS":-0.45,"pS":-0.48,"r":-0.005,"p":-0.011,"atr":-0.13,"rtr":-0.15,"lm":0.0,"sb":0.08,"sa":0.03},
{"f":8,"x":30,"rS":-0.28,"pS":-0.3,"r":-0.004,"p":-0.01,"atr":-0.08,"rtr":-0.1,"lm":0.0,"sb":0.1,"sa":0.04},
{"f":8,"x":40,"rS":-0.16,"pS":-0.17,"r":-0.003,"p":-0.008,"atr":-0.05,"rtr":-0.06,"lm":0.0,"sb":0.12,"sa":0.05},
{"f":8,"x":50,"rS":-0.07,"pS":-0.08,"r":-0.002,"p":-0.006,"atr":-0.03,"rtr":-0.04,"lm":0.0,"sb":0.13,"sa":0.06},
{"f":8,"x":60,"rS":-0.03,"pS":-0.04,"r":-0.001,"p":-0.004,"atr":-0.02,"rtr":-0.02,"lm":0.0,"sb":0.14,"sa":0.07},
{"f":8,"x":70,"rS":-0.01,"pS":-0.02,"r":0.0,"p":-0.003,"atr":-0.01,"rtr":-0.01,"lm":0.0,"sb":0.14,"sa":0.07},
{"f":8,"x":80,"rS":0.0,"pS":-0.01,"r":0.0,"p":-0.002,"atr":0.0,"rtr":0.0,"lm":0.0,"sb":0.14,"sa":0.07},
{"f":8,"x":90,"rS":0.0,"pS":0.0,"r":0.0,"p":-0.001,"atr":0.01,"rtr":0.0,"lm":0.0,"sb":0.14,"sa":0.07},
{"f":8,"x":99,"rS":0.0,"pS":0.0,"r":0.0,"p":0.0,"atr":0.01,"rtr":0.0,"lm":0.0,"sb":0.14,"sa":0.07},
{"f":9,"x":0,"rS":0.78,"pS":0.83,"r":0.03,"p":0.02,"atr":0.35,"rtr":0.23,"lm":0.01,"sb":0.03,"sa":0.02},
{"f":9,"x":10,"rS":0.76,"pS":0.8,"r":0.03,"p":0.02,"atr":0.32,"rtr":0.21,"lm":0.01,"sb":0.04,"sa":0.025},
{"f":9,"x":20,"rS":0.68,"pS":0.72,"r":0.03,"p":0.02,"atr":0.28,"rtr":0.18,"lm":0.01,"sb":0.05,"sa":0.03},
{"f":9,"x":30,"rS":0.55,"pS":0.6,"r":0.025,"p":0.02,"atr":0.25,"rtr":0.15,"lm":0.005,"sb":0.06,"sa":0.035},
{"f":9,"x":40,"rS":0.41,"pS":0.46,"r":0.02,"p":0.015,"atr":0.21,"rtr":0.13,"lm":0.0,"sb":0.07,"sa":0.04},
{"f":9,"x":50,"rS":0.29,"pS":0.32,"r":0.015,"p":0.01,"atr":0.16,"rtr":0.1,"lm":0.0,"sb":0.08,"sa":0.05},
{"f":9,"x":60,"rS":0.18,"pS":0.19,"r":0.01,"p":0.005,"atr":0.11,"rtr":0.07,"lm":0.0,"sb":0.09,"sa":0.06},
{"f":9,"x":70,"rS":0.1,"pS":0.11,"r":0.005,"p":0.0,"atr":0.07,"rtr":0.04,"lm":0.0,"sb":0.1,"sa":0.07},
{"f":9,"x":80,"rS":0.05,"pS":0.06,"r":0.0,"p":0.0,"atr":0.04,"rtr":0.02,"lm":0.0,"sb":0.11,"sa":0.07},
{"f":9,"x":90,"rS":0.02,"pS":0.03,"r":0.0,"p":0.0,"atr":0.02,"rtr":0.01,"lm":0.0,"sb":0.12,"sa":0.07},
{"f":9,"x":99,"rS":0.0,"pS":0.01,"r":0.0,"p":0.0,"atr":0.01,"rtr":0.0,"lm":0.0,"sb":0.12,"sa":0.07},
{"f":10,"x":0,"rS":0.24,"pS":0.2,"r":0.0,"p":0.0,"atr":0.03,"rtr":-0.03,"lm":0.0,"sb":0.05,"sa":0.02},
{"f":10,"x":5,"rS":0.31,"pS":0.29,"r":0.0,"p":0.0,"atr":0.06,"rtr":0.01,"lm":0.0,"sb":0.05,"sa":0.02},
{"f":10,"x":10,"rS":0.33,"pS":0.31,"r":0.0,"p":0.0,"atr":0.08,"rtr":0.04,"lm":0.0,"sb":0.06,"sa":0.025},
{"f":10,"x":15,"rS":0.26,"pS":0.24,"r":0.0,"p":0.0,"atr":0.06,"rtr":0.02,"lm":0.0,"sb":0.07,"sa":0.03},
{"f":10,"x":20,"rS":0.14,"pS":0.12,"r":0.0,"p":0.0,"atr":0.03,"rtr":0.0,"lm":0.0,"sb":0.08,"sa":0.035},
{"f":10,"x":30,"rS":-0.03,"pS":-0.02,"r":0.0,"p":0.0,"atr":-0.01,"rtr":-0.04,"lm":0.0,"sb":0.1,"sa":0.05},
{"f":10,"x":40,"rS":-0.06,"pS":-0.05,"r":0.0,"p":0.0,"atr":-0.03,"rtr":-0.05,"lm":0.0,"sb":0.12,"sa":0.06},
{"f":10,"x":50,"rS":-0.06,"pS":-0.05,"r":0.0,"p":0.0,"atr":-0.03,"rtr":-0.05,"lm":0.0,"sb":0.13,"sa":0.065},
{"f":10,"x":60,"rS":-0.06,"pS":-0.06,"r":0.0,"p":0.0,"atr":-0.03,"rtr":-0.05,"lm":0.0,"sb":0.13,"sa":0.07},
{"f":10,"x":70,"rS":-0.07,"pS":-0.06,"r":0.0,"p":0.0,"atr":-0.03,"rtr":-0.05,"lm":0.0,"sb":0.13,"sa":0.07},
{"f":10,"x":80,"rS":-0.07,"pS":-0.06,"r":0.0,"p":0.0,"atr":-0.03,"rtr":-0.05,"lm":0.0,"sb":0.13,"sa":0.07},
{"f":10,"x":90,"rS":-0.07,"pS":-0.06,"r":0.0,"p":0.0,"atr":-0.03,"rtr":-0.05,"lm":0.0,"sb":0.13,"sa":0.07},
{"f":10,"x":99,"rS":-0.07,"pS":-0.06,"r":0.0,"p":0.0,"atr":-0.03,"rtr":-0.05,"lm":0.0,"sb":0.13,"sa":0.07}
]
},
"spacing": 10,
"resolve": {"legend": {"color": "independent", "strokeDash": "independent"}, "scale": {"color": "independent", "strokeDash": "independent"}},
"vconcat": [
{
  "data": {"name": "A"},
  "facet": {"field": "f", "type": "ordinal", "header": {"title": null, "labelExpr": "(datum.value <= 3 ? 'Informative Feature ' : 'Non-Informative Feature ') + datum.value"}},
  "columns": 5,
  "spacing": {"column": 71, "row": 54},
  "bounds": "flush",
  "title": {"text": "(A) SYN1(a)", "orient": "bottom", "anchor": "middle", "frame": "group", "font": "Liberation Serif", "fontSize": 26, "fontWeight": "normal", "color": "black", "offset": 38, "dx": 601},
  "resolve": {"scale": {"y": "independent"}},
  "spec": {
    "width": 205, "height": 103,
    "layer": [
      {"mark": {"type": "errorband", "color": "#c98a63", "opacity": 0.35},
       "encoding": {"x": {"field": "x", "type": "quantitative", "scale": {"domain": [-5, 104], "nice": false}, "axis": {"values": [0,20,40,60,80,100]}, "title": "noise level"},
                    "y": {"field": "rS", "type": "quantitative", "title": null, "scale": {"zero": false, "nice": false, "padding": 5}, "axis": {"tickCount": 3, "format": ".1f"}},
                    "yError": {"field": "sb"}}},
      {"mark": {"type": "errorband", "color": "#c98a63", "opacity": 0.35},
       "encoding": {"x": {"field": "x", "type": "quantitative", "title": "noise level"},
                    "y": {"field": "pS", "type": "quantitative", "title": null},
                    "yError": {"field": "sb"}}},
      {"mark": {"type": "errorband", "color": "#5aa0d2", "opacity": 0.3},
       "encoding": {"x": {"field": "x", "type": "quantitative", "title": "noise level"},
                    "y": {"field": "atr", "type": "quantitative", "title": null},
                    "yError": {"field": "sa"}}},
      {"mark": {"type": "errorband", "color": "#5aa0d2", "opacity": 0.3},
       "encoding": {"x": {"field": "x", "type": "quantitative", "title": "noise level"},
                    "y": {"field": "rtr", "type": "quantitative", "title": null},
                    "yError": {"field": "sa"}}},
      {"transform": [{"fold": ["rS","pS","r","p","atr","rtr","lm"], "as": ["s","v"]}],
       "mark": {"type": "line", "strokeWidth": 1.2, "opacity": 0.9},
       "encoding": {"x": {"field": "x", "type": "quantitative", "title": "noise level"},
                    "y": {"field": "v", "type": "quantitative", "title": null},
                    "color": {"field": "s", "type": "nominal", "scale": {"domain": ["rS","pS","r","p","atr","rtr","lm"], "range": ["#a65628","#a65628","#ff7f0e","#ff7f0e","#1f77b4","#1f77b4","#ff0000"]},
                              "legend": {"title": null, "orient": "none", "legendX": 336, "legendY": 311, "direction": "horizontal", "symbolType": "stroke", "symbolSize": 900, "symbolStrokeWidth": 2.5, "labelFontSize": 14, "labelColor": "black", "labelOffset": 10, "columnPadding": 28, "strokeColor": "#cccccc", "padding": 3, "cornerRadius": 4, "labelExpr": "{'rS':'rₛ','pS':'ρₛ','r':'r','p':'ρ','atr':'ATR','rtr':'RTR','lm':'rₗₘ'}[datum.label]"}},
                    "strokeDash": {"field": "s", "type": "nominal", "scale": {"domain": ["rS","pS","r","p","atr","rtr","lm"], "range": [[1,0],[4,2],[1,0],[4,2],[1,0],[4,2],[1,0]]},
                              "legend": {"title": null, "orient": "none", "legendX": 336, "legendY": 311, "direction": "horizontal", "symbolType": "stroke", "symbolSize": 900, "symbolStrokeWidth": 2.5, "labelFontSize": 14, "labelColor": "black", "labelOffset": 10, "columnPadding": 28, "strokeColor": "#cccccc", "padding": 3, "cornerRadius": 4, "labelExpr": "{'rS':'rₛ','pS':'ρₛ','r':'r','p':'ρ','atr':'ATR','rtr':'RTR','lm':'rₗₘ'}[datum.label]"}}}}
    ]
  }
},
{
  "data": {"name": "B"},
  "facet": {"field": "f", "type": "ordinal", "header": {"title": null, "labelExpr": "(datum.value <= 3 ? 'Informative Feature ' : 'Non-Informative Feature ') + datum.value"}},
  "columns": 5,
  "spacing": {"column": 71, "row": 54},
  "bounds": "flush",
  "title": {"text": "(B) SYN1(b)", "orient": "bottom", "anchor": "middle", "frame": "group", "font": "Liberation Serif", "fontSize": 26, "fontWeight": "normal", "color": "black", "offset": 44, "dx": 601},
  "resolve": {"scale": {"y": "independent"}},
  "spec": {
    "width": 205, "height": 103,
    "layer": [
      {"mark": {"type": "errorband", "color": "#c98a63", "opacity": 0.35},
       "encoding": {"x": {"field": "x", "type": "quantitative", "scale": {"domain": [-5, 104], "nice": false}, "axis": {"values": [0,20,40,60,80,100]}, "title": "noise level"},
                    "y": {"field": "rS", "type": "quantitative", "title": null, "scale": {"zero": false, "nice": false, "padding": 5}, "axis": {"tickCount": 3, "format": ".1f"}},
                    "yError": {"field": "sb"}}},
      {"mark": {"type": "errorband", "color": "#c98a63", "opacity": 0.35},
       "encoding": {"x": {"field": "x", "type": "quantitative", "title": "noise level"},
                    "y": {"field": "pS", "type": "quantitative", "title": null},
                    "yError": {"field": "sb"}}},
      {"mark": {"type": "errorband", "color": "#5aa0d2", "opacity": 0.3},
       "encoding": {"x": {"field": "x", "type": "quantitative", "title": "noise level"},
                    "y": {"field": "atr", "type": "quantitative", "title": null},
                    "yError": {"field": "sa"}}},
      {"mark": {"type": "errorband", "color": "#5aa0d2", "opacity": 0.3},
       "encoding": {"x": {"field": "x", "type": "quantitative", "title": "noise level"},
                    "y": {"field": "rtr", "type": "quantitative", "title": null},
                    "yError": {"field": "sa"}}},
      {"transform": [{"fold": ["rS","pS","r","p","atr","rtr","lm"], "as": ["s","v"]}],
       "mark": {"type": "line", "strokeWidth": 1.2, "opacity": 0.9},
       "encoding": {"x": {"field": "x", "type": "quantitative", "title": "noise level"},
                    "y": {"field": "v", "type": "quantitative", "title": null},
                    "color": {"field": "s", "type": "nominal", "scale": {"domain": ["rS","pS","r","p","atr","rtr","lm"], "range": ["#a65628","#a65628","#ff7f0e","#ff7f0e","#1f77b4","#1f77b4","#ff0000"]},
                              "legend": {"title": null, "orient": "none", "legendX": 336, "legendY": 311, "direction": "horizontal", "symbolType": "stroke", "symbolSize": 900, "symbolStrokeWidth": 2.5, "labelFontSize": 14, "labelColor": "black", "labelOffset": 10, "columnPadding": 28, "strokeColor": "#cccccc", "padding": 3, "cornerRadius": 4, "labelExpr": "{'rS':'rₛ','pS':'ρₛ','r':'r','p':'ρ','atr':'ATR','rtr':'RTR','lm':'rₗₘ'}[datum.label]"}},
                    "strokeDash": {"field": "s", "type": "nominal", "scale": {"domain": ["rS","pS","r","p","atr","rtr","lm"], "range": [[1,0],[4,2],[1,0],[4,2],[1,0],[4,2],[1,0]]},
                              "legend": {"title": null, "orient": "none", "legendX": 336, "legendY": 311, "direction": "horizontal", "symbolType": "stroke", "symbolSize": 900, "symbolStrokeWidth": 2.5, "labelFontSize": 14, "labelColor": "black", "labelOffset": 10, "columnPadding": 28, "strokeColor": "#cccccc", "padding": 3, "cornerRadius": 4, "labelExpr": "{'rS':'rₛ','pS':'ρₛ','r':'r','p':'ρ','atr':'ATR','rtr':'RTR','lm':'rₗₘ'}[datum.label]"}}}}
    ]
  }
}
]
}
